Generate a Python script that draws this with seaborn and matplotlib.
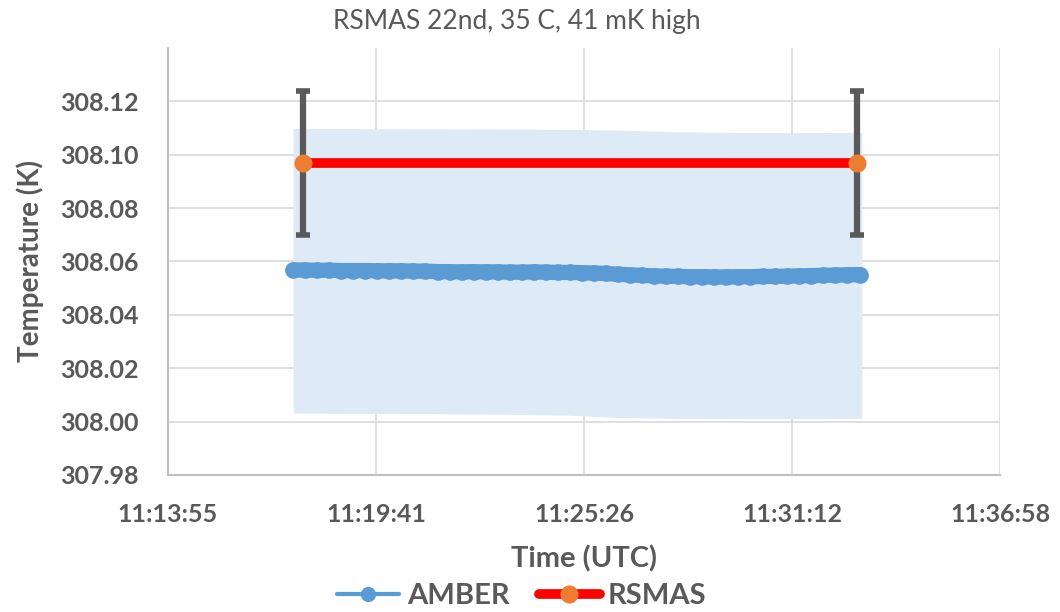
"""
RSMAS vs AMBER 温度对比图 (Excel 风格复刻)
"""

import numpy as np
import pandas as pd
import matplotlib
matplotlib.use('Agg')
import matplotlib.pyplot as plt
from matplotlib.lines import Line2D
from matplotlib.ticker import FuncFormatter
import seaborn as sns

# ---- 数据 ----
amber_times = [
    '11:17:23', '11:17:43', '11:18:03', '11:18:23', '11:18:43', '11:19:03',
    '11:19:23', '11:19:43', '11:20:03', '11:20:23', '11:20:43', '11:21:03',
    '11:21:23', '11:21:43', '11:22:03', '11:22:23', '11:22:43', '11:23:03',
    '11:23:23', '11:23:43', '11:24:03', '11:24:23', '11:24:43', '11:25:03',
    '11:25:23', '11:25:43', '11:26:03', '11:26:23', '11:26:43', '11:27:03',
    '11:27:23', '11:27:43', '11:28:03', '11:28:23', '11:28:43', '11:29:03',
    '11:29:23', '11:29:43', '11:30:03', '11:30:23', '11:30:43', '11:31:03',
    '11:31:23', '11:31:43', '11:32:03', '11:32:23', '11:32:43', '11:33:05',
]
amber_temp = [
    308.0568, 308.0568, 308.0567, 308.0567, 308.0566, 308.0566,
    308.0566, 308.0565, 308.0565, 308.0565, 308.0564, 308.0564,
    308.0562, 308.0562, 308.0561, 308.0562, 308.0561, 308.0561,
    308.0560, 308.0560, 308.0561, 308.0560, 308.0559, 308.0559,
    308.0558, 308.0557, 308.0555, 308.0552, 308.0550, 308.0548,
    308.0546, 308.0545, 308.0544, 308.0543, 308.0543, 308.0542,
    308.0542, 308.0543, 308.0543, 308.0544, 308.0544, 308.0545,
    308.0546, 308.0547, 308.0548, 308.0549, 308.0550, 308.0551,
]

# AMBER 不确定度带 (上/下边界)
band_times = ['11:17:23', '11:19:00', '11:21:00', '11:23:00', '11:25:00',
              '11:26:30', '11:28:00', '11:30:00', '11:32:00', '11:33:08']
band_upper = [308.1098, 308.1098, 308.1097, 308.1096, 308.1095,
              308.1092, 308.1086, 308.1083, 308.1083, 308.1084]
band_lower = [308.0032, 308.0031, 308.0030, 308.0028, 308.0024,
              308.0015, 308.0012, 308.0011, 308.0011, 308.0012]

rsmas_times = ['11:17:39', '11:33:00']
rsmas_temp = [308.097, 308.097]
rsmas_err = [0.027, 0.027]

x_ticks = [0.468, 0.472, 0.476, 0.480, 0.484]   # Excel 日期小数
y_ticks = [307.98, 308.00, 308.02, 308.04, 308.06, 308.08, 308.10, 308.12]


def to_day(times):
    return pd.to_timedelta(times).total_seconds().to_numpy() / 86400.0


def fmt_time(v, pos=None):
    s = int(round(v * 86400))
    return f'{s // 3600}:{(s % 3600) // 60:02d}:{s % 60:02d}'


amber_df = pd.DataFrame({'t': to_day(amber_times), 'temp': amber_temp})
rsmas_df = pd.DataFrame({'t': to_day(rsmas_times), 'temp': rsmas_temp})

GRAY = '#595959'
GRID = '#D9D9D9'
BLUE = '#5B9BD5'
BAND = '#DEEAF6'
RED = '#FF0000'
ORANGE = '#ED7D31'

sns.set_style('white')
plt.rcParams['font.family'] = ['Lato', 'DejaVu Sans']

fig, ax = plt.subplots(figsize=(10.6, 6.12), dpi=100)
fig.subplots_adjust(left=0.1585, right=0.9434, top=0.9216, bottom=0.2239)

ax.fill_between(to_day(band_times), band_lower, band_upper,
                color=BAND, linewidth=0, zorder=1)

# 点很密, Excel 里看起来是一条粗线
sns.lineplot(data=amber_df, x='t', y='temp', ax=ax, color=BLUE,
             linewidth=11, marker='o', markersize=12, markeredgewidth=0,
             solid_capstyle='round', solid_joinstyle='round',
             zorder=3, legend=False)

ax.errorbar(rsmas_df['t'], rsmas_df['temp'], yerr=rsmas_err, fmt='none',
            ecolor=GRAY, elinewidth=4.5, capsize=5, capthick=4, zorder=4)

sns.lineplot(data=rsmas_df, x='t', y='temp', ax=ax, color=RED,
             linewidth=7, marker='o', markersize=13,
             markerfacecolor=ORANGE, markeredgewidth=0,
             zorder=5, legend=False)

ax.set_xlim(x_ticks[0], x_ticks[-1])
ax.set_ylim(307.98, 308.14)
ax.set_xticks(x_ticks)
ax.set_yticks(y_ticks)
ax.xaxis.set_major_formatter(FuncFormatter(fmt_time))
ax.yaxis.set_major_formatter(FuncFormatter(lambda v, p: f'{v:.2f}'))

ax.grid(True, color=GRID, linewidth=1.2, zorder=0)
ax.set_axisbelow(True)
for side in ['top', 'right']:
    ax.spines[side].set_visible(False)
for side in ['left', 'bottom']:
    ax.spines[side].set_color('#BFBFBF')
    ax.spines[side].set_linewidth(1.5)

ax.tick_params(axis='both', length=0, colors=GRAY, labelsize=18)
ax.tick_params(axis='y', pad=21)
ax.tick_params(axis='x', pad=20)
for lbl in ax.get_xticklabels() + ax.get_yticklabels():
    lbl.set_fontweight('bold')

fig.text(517 / 1060, 1 - 22 / 612, 'RSMAS 22nd, 35 C, 41 mK high',
         fontsize=19, color=GRAY, ha='center', va='center')
ax.set_xlabel('Time (UTC)', fontsize=21, fontweight='bold', color=GRAY, labelpad=14)
ax.set_ylabel('Temperature (K)', fontsize=20, fontweight='bold', color=GRAY, labelpad=12)

handles = [
    Line2D([], [], color=BLUE, linewidth=3, marker='o', markersize=11,
           markeredgewidth=0),
    Line2D([], [], color=RED, linewidth=7, marker='o', markersize=13,
           markerfacecolor=ORANGE, markeredgewidth=0),
]
leg = fig.legend(handles, ['AMBER', 'RSMAS'], loc='center',
                 bbox_to_anchor=(522 / 1060, 1 - 596 / 612), ncol=2,
                 frameon=False, handlelength=2.1, handletextpad=0.28,
                 columnspacing=1.0, borderpad=0,
                 prop={'size': 21, 'weight': 'bold'})
for t in leg.get_texts():
    t.set_color(GRAY)

plt.savefig('out.png', dpi=100)
plt.close()
